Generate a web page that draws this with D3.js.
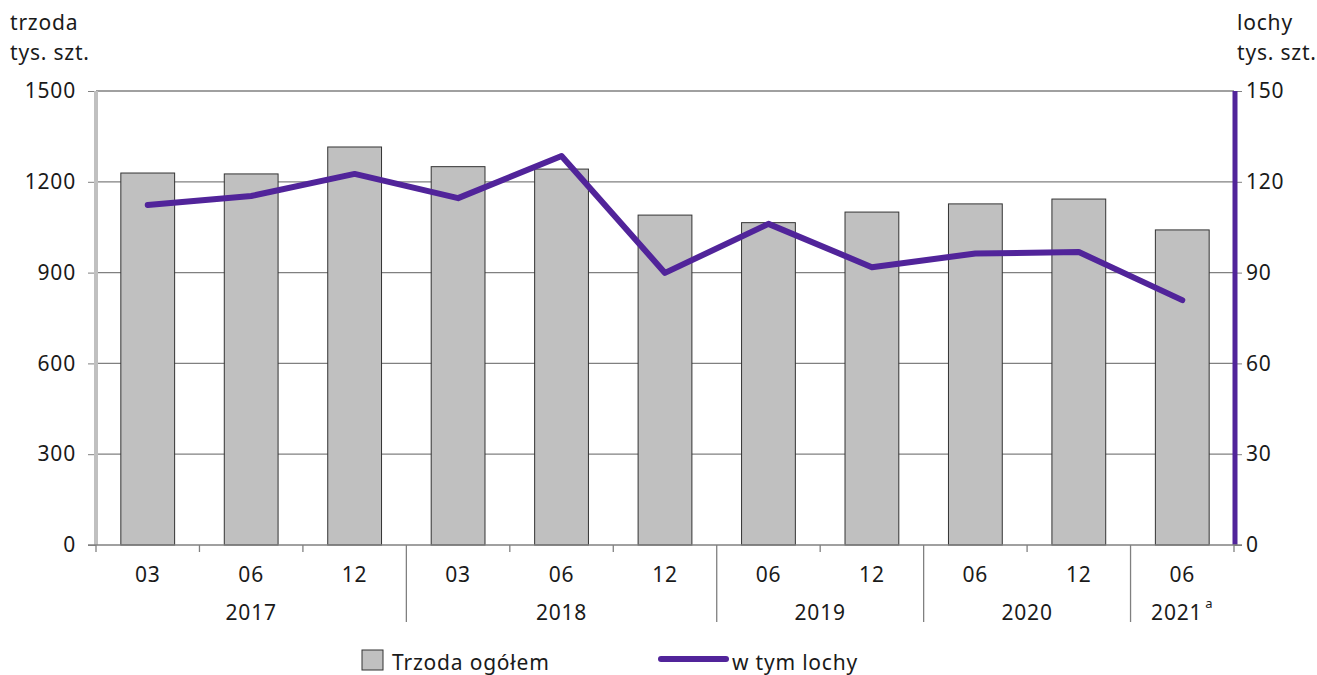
<!DOCTYPE html>
<html><head><meta charset="utf-8">
<script src="https://cdn.jsdelivr.net/npm/d3@7"></script>
<style>body{margin:0;background:#fff}svg{display:block}text{font-family:"Noto Sans",sans-serif;fill:#1a1a1a;letter-spacing:0.8px}</style>
</head><body><svg id="c" width="1317" height="675"></svg>
<script>
const months = ["03","06","12","03","06","12","06","12","06","12","06"];
const years = [{label:"2017",from:0,to:3},{label:"2018",from:3,to:6},{label:"2019",from:6,to:8},{label:"2020",from:8,to:10},{label:"2021",from:10,to:11,sup:"a"}];
const trzoda = [1229,1226,1315,1250,1242,1090,1065,1100,1127,1143,1041];
const lochy = [112.3,115.3,122.6,114.6,128.5,89.9,106.1,91.8,96.3,96.8,80.9];
const leftTicks = [0,300,600,900,1200,1500];
const rightTicks = [0,30,60,90,120,150];

const FS = 21;
const svg = d3.select("#c");
const L = 96, R = 1234, T = 91, B = 545;
const idx = d3.range(months.length);
const x = d3.scaleBand().domain(idx).range([L, R]).paddingInner(0.48).paddingOuter(0.24);
const xs = d3.scaleBand().domain(idx).range([L, R]);
const yL = d3.scaleLinear().domain([0,1500]).range([B,T]);
const yR = d3.scaleLinear().domain([0,150]).range([B,T]);

// gridlines
svg.append("g").selectAll("line").data(leftTicks.filter(d=>d>0)).join("line")
  .attr("x1",L).attr("x2",R).attr("y1",d=>yL(d)).attr("y2",d=>yL(d))
  .attr("stroke","#808080").attr("stroke-width",1.3);

// bars
svg.append("g").selectAll("rect").data(trzoda).join("rect")
  .attr("x",(d,i)=>x(i)).attr("width",x.bandwidth())
  .attr("y",d=>yL(d)).attr("height",d=>B-yL(d))
  .attr("fill","#c0c0c0").attr("stroke","#333").attr("stroke-width",1);

// left axis
const ax = svg.append("g").attr("transform",`translate(${L},0)`)
  .call(d3.axisLeft(yL).tickValues(leftTicks).tickSize(8).tickPadding(12).tickFormat(d3.format("d")));
ax.select(".domain").remove();
ax.selectAll(".tick line").attr("stroke","#808080");
ax.selectAll("text").attr("font-size",FS).attr("fill","#1a1a1a").attr("font-family","Noto Sans");
svg.append("line").attr("x1",L).attr("x2",L).attr("y1",T).attr("y2",B).attr("stroke","#c0c0c0").attr("stroke-width",4);

// right axis
const ar = svg.append("g").attr("transform",`translate(${R},0)`)
  .call(d3.axisRight(yR).tickValues(rightTicks).tickSize(8).tickPadding(4).tickFormat(d3.format("d")));
ar.select(".domain").remove();
ar.selectAll(".tick line").attr("stroke","#808080");
ar.selectAll("text").attr("font-size",FS).attr("fill","#1a1a1a").attr("font-family","Noto Sans");
svg.append("line").attr("x1",R+1).attr("x2",R+1).attr("y1",T).attr("y2",B).attr("stroke","#51249a").attr("stroke-width",5);

// x axis
svg.append("line").attr("x1",L-8).attr("x2",R+8).attr("y1",B).attr("y2",B).attr("stroke","#808080").attr("stroke-width",1.3);
const bounds = d3.range(months.length+1).map(i=> i<months.length ? xs(i) : R);
const yearBounds = new Set(years.slice(1).map(y=>y.from));
svg.append("g").selectAll("line").data(bounds.map((b,i)=>({b,i}))).join("line")
  .attr("x1",d=>d.b).attr("x2",d=>d.b).attr("y1",B)
  .attr("y2",d=>yearBounds.has(d.i)?622:B+7)
  .attr("stroke","#808080").attr("stroke-width",1.3);
svg.append("g").selectAll("text").data(months).join("text")
  .attr("x",(d,i)=>xs(i)+xs.bandwidth()/2).attr("y",582).attr("text-anchor","middle")
  .attr("font-size",FS).text(d=>d);
const yt = svg.append("g").selectAll("text").data(years).join("text")
  .attr("x",d=>(xs(d.from)+(d.to<months.length?xs(d.to):R))/2).attr("y",620).attr("text-anchor","middle")
  .attr("font-size",FS).text(d=>d.label);
yt.filter(d=>d.sup).append("tspan").attr("dx",3).attr("dy",-12).attr("font-size",13).text(d=>d.sup);

// line
const line = d3.line().x((d,i)=>xs(i)+xs.bandwidth()/2).y(d=>yR(d));
svg.append("path").datum(lochy).attr("d",line).attr("fill","none")
  .attr("stroke","#51249a").attr("stroke-width",6).attr("stroke-linejoin","round").attr("stroke-linecap","round");

// axis titles
const tl = svg.append("text").attr("x",10).attr("y",30).attr("font-size",FS);
tl.append("tspan").attr("x",10).text("trzoda");
tl.append("tspan").attr("x",10).attr("dy",30).text("tys. szt.");
const tr = svg.append("text").attr("x",1237).attr("y",30).attr("font-size",FS);
tr.append("tspan").attr("x",1237).text("lochy");
tr.append("tspan").attr("x",1237).attr("dy",30).text("tys. szt.");

// legend
svg.append("rect").attr("x",362).attr("y",650).attr("width",21).attr("height",20).attr("fill","#c0c0c0").attr("stroke","#333");
svg.append("text").attr("x",392).attr("y",670).attr("font-size",FS).text("Trzoda ogółem");
svg.append("line").attr("x1",661).attr("x2",726).attr("y1",659).attr("y2",659).attr("stroke","#51249a").attr("stroke-width",6).attr("stroke-linecap","round");
svg.append("text").attr("x",732).attr("y",670).attr("font-size",FS).text("w tym lochy");
</script></body></html>
